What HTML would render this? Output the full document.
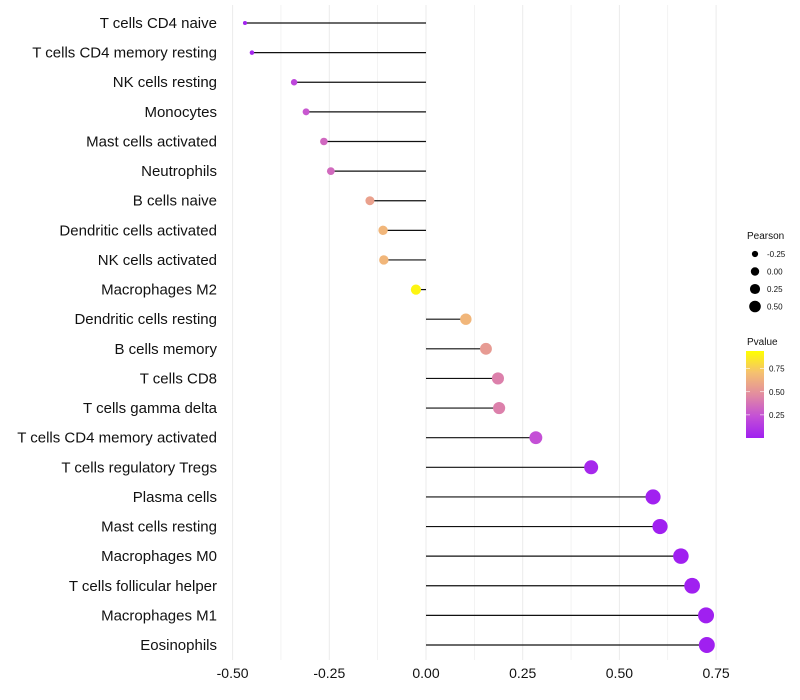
<!DOCTYPE html>
<html><head><meta charset="utf-8"><style>
body{margin:0;background:#fff;}
svg{display:block;font-family:"Liberation Sans",sans-serif;}
</style></head><body>
<svg id="chart" width="800" height="700">
<g id="grid"></g>
<g id="marks"></g>
<g id="ylabels"></g>
<g id="xlabels"></g>
<g id="legend"></g>
</svg>
<script>
const categories=["T cells CD4 naive","T cells CD4 memory resting","NK cells resting","Monocytes","Mast cells activated","Neutrophils","B cells naive","Dendritic cells activated","NK cells activated","Macrophages M2","Dendritic cells resting","B cells memory","T cells CD8","T cells gamma delta","T cells CD4 memory activated","T cells regulatory  Tregs","Plasma cells","Mast cells resting","Macrophages M0","T cells follicular helper","Macrophages M1","Eosinophils"];
const pearson=[-0.468,-0.45,-0.341,-0.31,-0.264,-0.246,-0.145,-0.111,-0.109,-0.026,0.103,0.155,0.186,0.189,0.284,0.427,0.587,0.605,0.659,0.688,0.724,0.726];
const pvalue=[0.02,0.03,0.2,0.28,0.35,0.36,0.6,0.7,0.7,0.96,0.7,0.57,0.45,0.45,0.25,0.04,0.004,0.002,0.001,0.001,0.0005,0.0005];
const xTicks=[-0.5,-0.25,0,0.25,0.5,0.75];
const xTickLabels=["-0.50","-0.25","0.00","0.25","0.50","0.75"];
const sizeBreaks=[-0.25,0,0.25,0.5];
const sizeLabels=["-0.25","0.00","0.25","0.50"];
const pBreaks=[0.25,0.5,0.75];
const pLabels=["0.25","0.50","0.75"];

const NS="http://www.w3.org/2000/svg";
const x=v=>426+v*386.8;
const y=i=>23+i*29.62;
const rad=v=>Math.sqrt(Math.max(4,4+(v+0.47)*50));
const stops=[[0,[160,32,240]],[0.25,[196,80,214]],[0.5,[226,140,160]],[0.75,[245,192,112]],[1,[255,255,0]]];
function col(p){p=Math.max(0,Math.min(1,p));for(let k=1;k<stops.length;k++){if(p<=stops[k][0]){const a=stops[k-1],b=stops[k],t=(p-a[0])/(b[0]-a[0]);return `rgb(${a[1].map((c,j)=>Math.round(c+(b[1][j]-c)*t)).join(",")})`;}}return "rgb(255,255,0)";}
function mk(tag,attrs,parent){const e=document.createElementNS(NS,tag);for(const k in attrs)e.setAttribute(k,attrs[k]);parent.appendChild(e);return e;}
const grid=document.getElementById("grid"),marks=document.getElementById("marks"),yl=document.getElementById("ylabels"),xl=document.getElementById("xlabels"),lg=document.getElementById("legend");
for(let v=-0.5;v<=0.76;v+=0.125){const l=mk("line",{x1:x(v),x2:x(v),y1:5,y2:660,stroke:"#ebebeb","stroke-width":Math.abs(Math.round(v*8))%2===0?1:0.6},grid);

}
categories.forEach((c,i)=>{
 const seg=mk("line",{x1:x(0),x2:x(pearson[i]),y1:y(i),y2:y(i),stroke:"#111","stroke-width":1.2},marks);
 
 
 const d=mk("circle",{cx:x(pearson[i]),cy:y(i),r:rad(pearson[i]),fill:col(pvalue[i])},marks);
 
 
 const t=mk("text",{x:217,y:y(i)+5,"text-anchor":"end","font-size":15,fill:"#111"},yl);t.textContent=c;
 
 
});
xTicks.forEach((v,i)=>{const t=mk("text",{x:x(v),y:678,"text-anchor":"middle","font-size":14,fill:"#111"},xl);t.textContent=xTickLabels[i];

});
const pt=mk("text",{x:747,y:239,"font-size":10,fill:"#111"},lg);pt.textContent="Pearson";


sizeBreaks.forEach((v,i)=>{const cy=254+i*17.5;
 const c=mk("circle",{cx:755,cy:cy,r:rad(v)*0.8,fill:"#000"},lg);
 
 
 const t=mk("text",{x:767,y:cy+3,"font-size":8,fill:"#111"},lg);t.textContent=sizeLabels[i];
 
 });
const ct=mk("text",{x:747,y:345,"font-size":10,fill:"#111"},lg);ct.textContent="Pvalue";


const defs=mk("defs",{},lg);const gr=mk("linearGradient",{id:"pg",x1:0,y1:1,x2:0,y2:0},defs);
stops.forEach(s=>mk("stop",{offset:s[0],"stop-color":`rgb(${s[1].join(",")})`},gr));
const bar=mk("rect",{x:746,y:351,width:18,height:87,fill:"url(#pg)"},lg);


const py=p=>438-p*92.5;
pBreaks.forEach((p,i)=>{mk("line",{x1:746,x2:750,y1:py(p),y2:py(p),stroke:"#fff","stroke-width":0.6},lg);mk("line",{x1:760,x2:764,y1:py(p),y2:py(p),stroke:"#fff","stroke-width":0.6},lg);
 const t=mk("text",{x:769,y:py(p)+3,"font-size":8,fill:"#111"},lg);t.textContent=pLabels[i];
 
 });
</script>
</body></html>
